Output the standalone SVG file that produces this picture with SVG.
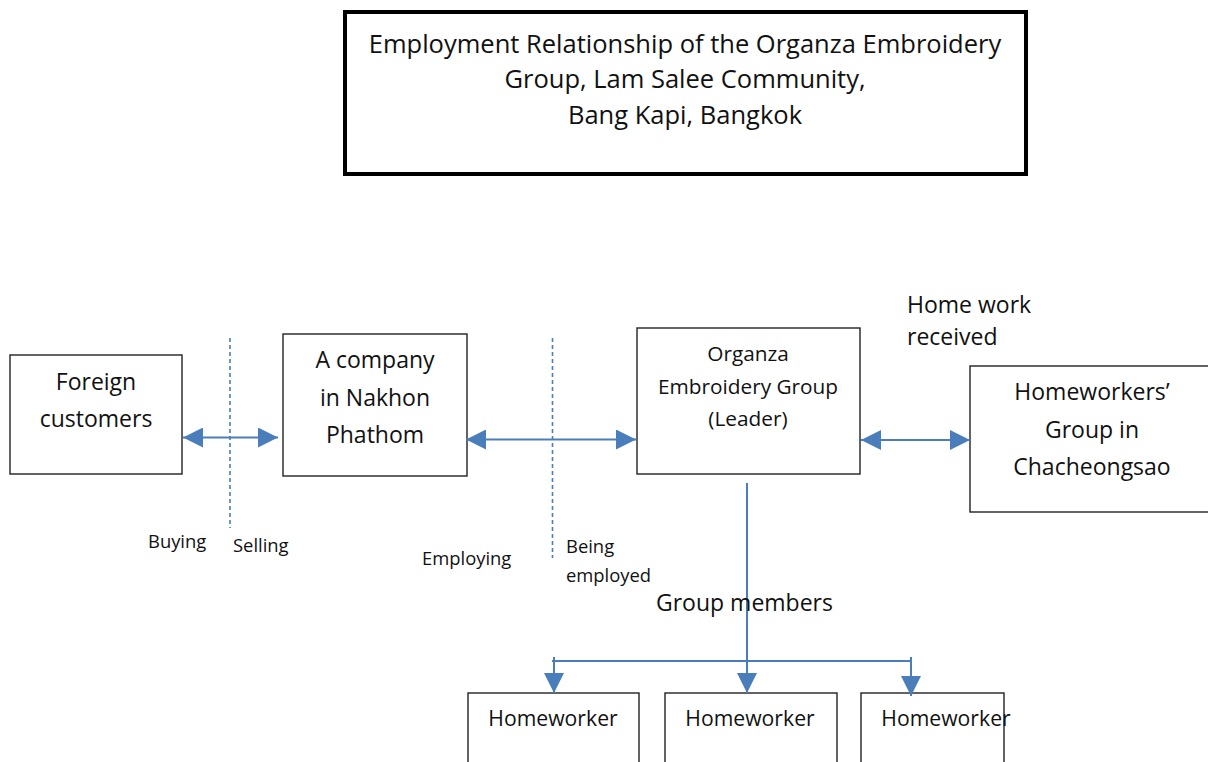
<svg xmlns="http://www.w3.org/2000/svg" width="1208" height="762" viewBox="0 0 1208 762">
<style>
  text { font-family: "Open Sans", "Noto Sans", "Liberation Sans", sans-serif; fill: #111; }
  .c { text-anchor: middle; }
  .box { fill: #fff; stroke: #222; stroke-width: 1.4; }
  .title { fill: #fff; stroke: #000; stroke-width: 4; }
  .conn { stroke: #4a7ebb; stroke-width: 2; fill: none; }
  .dash { stroke: #4a7ebb; stroke-width: 1.6; stroke-dasharray: 4 3; fill: none; }
  .t24 { font-size: 25.5px; }
  .t22 { font-size: 23px; }
  .t21 { font-size: 20.8px; }
  .hw { font-size: 21.2px; }
  .t18 { font-size: 18.4px; }
</style>
<defs>
  <marker id="ah" viewBox="0 0 20 20" refX="20" refY="10" markerWidth="20" markerHeight="20" markerUnits="userSpaceOnUse" orient="auto-start-reverse">
    <path d="M0,0 L20,10 L0,20 z" fill="#4a7ebb"/>
  </marker>
</defs>
<rect width="1208" height="762" fill="#fff"/>

<g id="title">
  <rect class="title" x="345" y="12" width="681" height="162"/>
  <text class="c t24" x="685" y="53">Employment Relationship of the Organza Embroidery</text>
  <text class="c t24" x="685" y="88">Group, Lam Salee Community,</text>
  <text class="c t24" x="685" y="124">Bang Kapi, Bangkok</text>
</g>

<g id="foreign-customers">
  <rect class="box" x="10" y="355" width="172" height="119"/>
  <text class="c t22" x="96" y="390">Foreign</text>
  <text class="c t22" x="96" y="427">customers</text>
</g>

<g id="company">
  <rect class="box" x="283" y="334" width="184" height="142"/>
  <text class="c t22" x="375" y="368">A company</text>
  <text class="c t22" x="375" y="406">in Nakhon</text>
  <text class="c t22" x="375" y="443">Phathom</text>
</g>

<g id="organza-group">
  <rect class="box" x="637" y="328" width="223" height="146"/>
  <text class="c t21" x="748" y="361">Organza</text>
  <text class="c t21" x="748" y="394">Embroidery Group</text>
  <text class="c t21" x="748" y="426">(Leader)</text>
</g>

<g id="homeworkers-group">
  <rect class="box" x="970" y="366" width="250" height="146"/>
  <text class="c t22" x="1092" y="400">Homeworkers’</text>
  <text class="c t22" x="1092" y="438">Group in</text>
  <text class="c t22" x="1092" y="475">Chacheongsao</text>
</g>

<g id="homeworker-1">
  <rect class="box" x="468" y="693" width="171" height="80"/>
  <text class="c hw" x="553" y="726">Homeworker</text>
</g>
<g id="homeworker-2">
  <rect class="box" x="665" y="693" width="172" height="80"/>
  <text class="c hw" x="750" y="726">Homeworker</text>
</g>
<g id="homeworker-3">
  <rect class="box" x="861" y="693" width="143" height="80"/>
  <text class="c hw" x="946" y="726">Homeworker</text>
</g>

<g id="connectors">
  <line class="dash" x1="230" y1="338" x2="230" y2="528"/>
  <line class="dash" x1="552.5" y1="338" x2="552.5" y2="558"/>
  <line class="conn" x1="183" y1="437.5" x2="278" y2="437.5" marker-start="url(#ah)" marker-end="url(#ah)"/>
  <line class="conn" x1="466" y1="439.5" x2="636" y2="439.5" marker-start="url(#ah)" marker-end="url(#ah)"/>
  <line class="conn" x1="861" y1="440" x2="970" y2="440" marker-start="url(#ah)" marker-end="url(#ah)"/>
  <line class="conn" x1="747" y1="483" x2="747" y2="693" marker-end="url(#ah)"/>
  <line class="conn" x1="552" y1="661" x2="911" y2="661"/>
  <line class="conn" x1="554" y1="657" x2="554" y2="693" marker-end="url(#ah)"/>
  <line class="conn" x1="911" y1="657" x2="911" y2="696" marker-end="url(#ah)"/>
</g>

<g id="labels">
  <text class="t18" x="148" y="548">Buying</text>
  <text class="t18" x="233" y="552">Selling</text>
  <text class="t18" x="422" y="565">Employing</text>
  <text class="t18" x="566" y="553">Being</text>
  <text class="t18" x="566" y="582">employed</text>
  <text class="t22" x="656" y="611">Group members</text>
  <text class="t22" x="907" y="313">Home work</text>
  <text class="t22" x="907" y="345">received</text>
</g>
</svg>
